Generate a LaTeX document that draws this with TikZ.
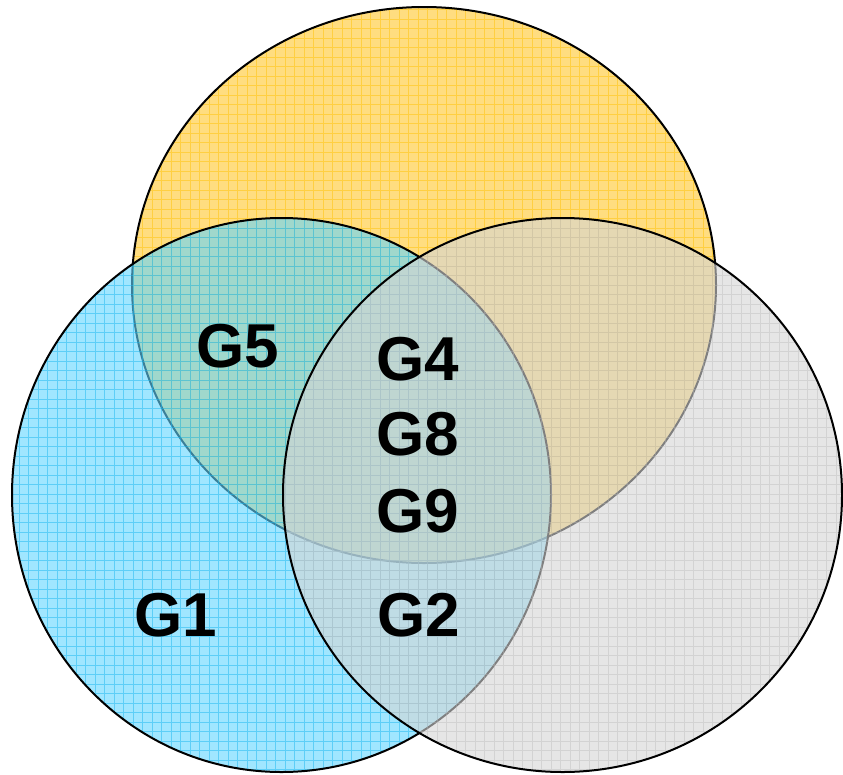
\documentclass[tikz,border=0pt]{standalone}
\usepackage{fontspec}
\setmainfont{Liberation Sans}
\usepackage{tikz}
\definecolor{goldfill}{HTML}{FFDD80}
\definecolor{goldgrid}{HTML}{FFC61A}
\definecolor{skyfill}{HTML}{61D5FF}
\definecolor{skygrid}{HTML}{1AB8F0}
\definecolor{greyfill}{HTML}{D5D5D5}
\definecolor{greygrid}{HTML}{B8B8B8}

\begin{document}
\begin{tikzpicture}[x=1pt,y=-1pt,
		setline/.style={draw=black,line width=2pt},
		gridline/.style={line width=0.7pt},
		glabel/.style={font=\fontsize{62}{62}\selectfont\bfseries,inner sep=0pt}]
	\useasboundingbox (0,0) rectangle (843,774);
	% top set
	\fill[goldfill] (424,285) ellipse [x radius=292, y radius=278];
	\begin{scope}
		\clip (424,285) ellipse [x radius=292, y radius=278];
		\draw[goldgrid,gridline,draw opacity=0.6] (0,0) grid[step=9.5pt] (843,774);
	\end{scope}
	\draw[setline] (424,285) ellipse [x radius=292, y radius=278];
	% left set
	\fill[skyfill,fill opacity=0.6] (281.5,495) ellipse [x radius=269.5, y radius=277];
	\begin{scope}
		\clip (281.5,495) ellipse [x radius=269.5, y radius=277];
		\draw[skygrid,gridline,draw opacity=0.5] (0,0) grid[step=9.5pt] (843,774);
	\end{scope}
	\draw[setline] (281.5,495) ellipse [x radius=269.5, y radius=277];
	% right set
	\fill[greyfill,fill opacity=0.6] (562.5,495) ellipse [x radius=279.5, y radius=277];
	\begin{scope}
		\clip (562.5,495) ellipse [x radius=279.5, y radius=277];
		\draw[greygrid,gridline,draw opacity=0.4] (0,0) grid[step=9.5pt] (843,774);
	\end{scope}
	\draw[setline] (562.5,495) ellipse [x radius=279.5, y radius=277];
	% labels
	\node[glabel] (g5) at (238,346) {G5};
	\node[glabel] (g4) at (418,359) {G4};
	\node[glabel] (g8) at (418,434) {G8};
	\node[glabel] (g9) at (418,511) {G9};
	\node[glabel] (g1) at (176,615) {G1};
	\node[glabel] (g2) at (419,615) {G2};
\end{tikzpicture}
\end{document}
